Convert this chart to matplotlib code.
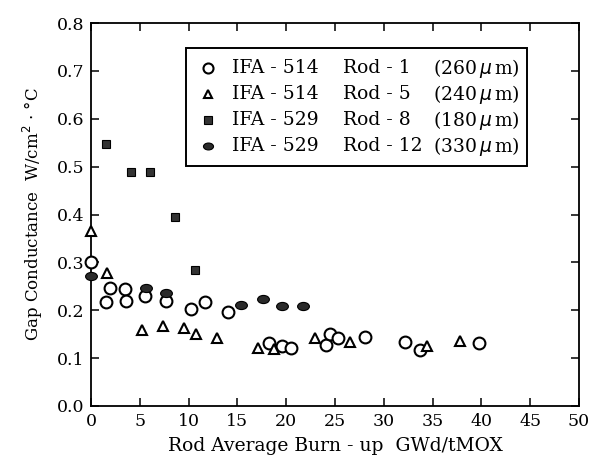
import numpy as np
import matplotlib.pyplot as plt
from matplotlib.path import Path
from matplotlib.transforms import Affine2D
from matplotlib.patches import Rectangle

plt.rcParams['font.family'] = ['DejaVu Serif']

# IFA-514 Rod-1 (circles)
rod1_bu = [0.0, 1.5, 1.9, 3.5, 3.55, 5.5, 7.7, 10.25, 11.7, 14.0, 18.2, 19.6, 20.5,
           24.1, 24.5, 25.3, 28.1, 32.2, 33.7, 39.8]
rod1_gc = [0.300, 0.218, 0.247, 0.244, 0.219, 0.230, 0.219, 0.202, 0.218, 0.197, 0.132,
           0.125, 0.122, 0.127, 0.150, 0.141, 0.145, 0.134, 0.117, 0.131]

# IFA-514 Rod-5 (triangles)
rod5_bu = [0.0, 1.6, 5.2, 7.4, 9.5, 10.8, 12.9, 17.1, 18.7, 23.0, 26.5, 34.4, 37.8]
rod5_gc = [0.365, 0.277, 0.159, 0.167, 0.162, 0.150, 0.141, 0.122, 0.120, 0.141,
           0.134, 0.125, 0.136]

# IFA-529 Rod-8 (squares)
rod8_bu = [1.5, 4.1, 6.0, 8.6, 10.65]
rod8_gc = [0.547, 0.488, 0.488, 0.395, 0.285]

# IFA-529 Rod-12 (ellipses)
rod12_bu = [0.0, 5.6, 7.7, 15.4, 17.6, 19.6, 21.7]
rod12_gc = [0.271, 0.247, 0.237, 0.212, 0.223, 0.209, 0.209]

leg_ifa = ['IFA - 514', 'IFA - 514', 'IFA - 529', 'IFA - 529']
leg_rod = ['Rod - 1', 'Rod - 5', 'Rod - 8', 'Rod - 12']
leg_gap = [r'(260$\,\mu\,$m)', r'(240$\,\mu\,$m)', r'(180$\,\mu\,$m)', r'(330$\,\mu\,$m)']

ellipse = Path.unit_circle().transformed(Affine2D().scale(1.45, 1.0))

styles = [
    dict(marker='o', ms=8.5, mfc='white', mec='black', mew=1.5),
    dict(marker='^', ms=7.5, mfc='white', mec='black', mew=1.5),
    dict(marker='s', ms=6.3, mfc='#333333', mec='black', mew=0.8),
    dict(marker=ellipse, ms=8.5, mfc='#2a2a2a', mec='black', mew=0.8),
]

fig = plt.figure(figsize=(5.96, 4.70), dpi=100)
ax = fig.add_axes([0.1527, 0.1362, 0.8188, 0.8148])

series = [(rod1_bu, rod1_gc), (rod5_bu, rod5_gc), (rod8_bu, rod8_gc), (rod12_bu, rod12_gc)]
for (x, y), st in zip(series, styles):
    ax.plot(x, y, ls='none', clip_on=False, zorder=3, **st)

ax.set_xlim(0, 50)
ax.set_ylim(0, 0.8)
ax.set_xticks(np.arange(0, 51, 5))
ax.set_yticks(np.arange(0, 0.81, 0.1))
ax.set_yticklabels(['%.1f' % v for v in np.arange(0, 0.81, 0.1)])
ax.tick_params(direction='in', length=6, width=1.1, labelsize=12.5,
               top=True, right=True, pad=5)
for sp in ax.spines.values():
    sp.set_linewidth(1.3)

ax.set_xlabel('Rod Average Burn - up  GWd/tMOX', fontsize=13.5, labelpad=5)
ax.set_ylabel(r'Gap Conductance  W/cm$^2$ $\cdot$ $\degree$C', fontsize=12, labelpad=8)

# legend box, laid out in columns like the original
x0, x1 = (186 - 91) / 488, (527 - 91) / 488
y0, y1 = (406 - 166) / 383, (406 - 48) / 383
ax.add_patch(Rectangle((x0, y0), x1 - x0, y1 - y0, transform=ax.transAxes,
                       fill=True, fc='white', ec='black', lw=1.4, zorder=4))
rows = [(406 - yy) / 383 for yy in (68, 94, 120, 146)]
for i, st in enumerate(styles):
    yy = rows[i]
    ax.plot([(208 - 91) / 488], [yy], transform=ax.transAxes, ls='none',
            zorder=5, clip_on=False, **dict(st, ms=st['ms'] * 0.85))
    ax.text((232 - 91) / 488, yy, leg_ifa[i], transform=ax.transAxes,
            va='center', ha='left', fontsize=13.5, zorder=5)
    ax.text((343 - 91) / 488, yy, leg_rod[i], transform=ax.transAxes,
            va='center', ha='left', fontsize=13.5, zorder=5)
    ax.text((433 - 91) / 488, yy, leg_gap[i], transform=ax.transAxes,
            va='center', ha='left', fontsize=13.5, zorder=5)

fig.savefig('out.png', dpi=100)
